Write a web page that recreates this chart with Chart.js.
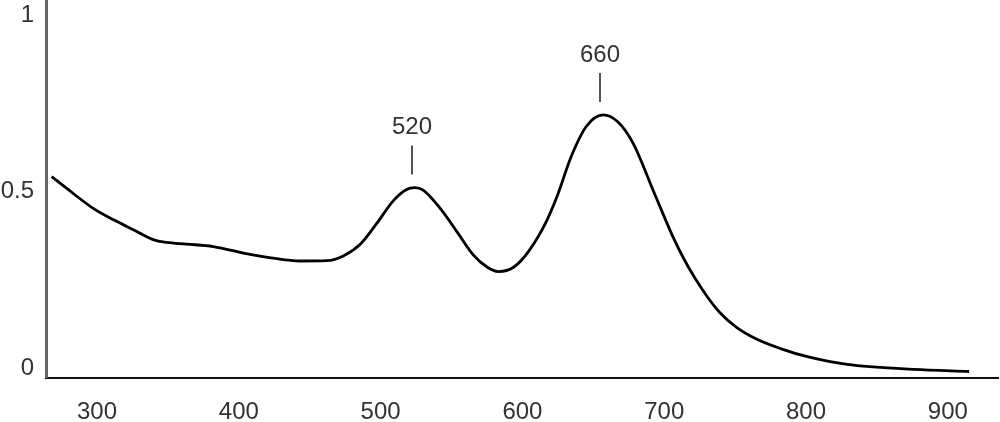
<!DOCTYPE html>
<html lang="en">
<head>
<meta charset="UTF-8" />
<title>Absorption spectrum</title>
<script src="https://cdn.jsdelivr.net/npm/chart.js"></script>
<style>
  html, body { margin: 0; padding: 0; background: #fff; }
  .chart-box { position: relative; width: 1000px; height: 422px; }
</style>
</head>
<body>
<div class="chart-box"><canvas id="spectrum"></canvas></div>

<script>
  // wavelength (nm) and absorbance
  const wavelength = [268, 283, 297, 312, 326, 340, 349, 363, 382, 406, 424, 443, 462, 474, 486,
                      497, 509, 518, 524, 530, 542, 554, 565, 575, 583, 594, 605, 617, 625, 634,
                      645, 657, 667, 678, 692, 699, 706, 714, 721, 730, 739, 751, 765, 782, 801,
                      829, 876, 915];
  const absorbance = [0.542, 0.495, 0.453, 0.419, 0.391, 0.363, 0.356, 0.351, 0.344, 0.323, 0.311, 0.303, 0.304, 0.318, 0.352,
                      0.408, 0.474, 0.505, 0.511, 0.504, 0.452, 0.385, 0.322, 0.286, 0.273, 0.286, 0.334, 0.416, 0.492, 0.595,
                      0.684, 0.717, 0.698, 0.637, 0.505, 0.438, 0.373, 0.308, 0.259, 0.204, 0.158, 0.115, 0.082, 0.055, 0.032,
                      0.010, -0.004, -0.010];
  const xTicks = [300, 400, 500, 600, 700, 800, 900];
  const yTicks = [0, 0.5, 1];
  const peakLabels = [520, 660];

  const fontFamily = '"Liberation Sans", Arial, sans-serif';

  // little "520" / "660" markers above the peaks
  const peakMarkers = {
    id: 'peakMarkers',
    afterDatasetsDraw(chart) {
      const { ctx, scales: { x, y } } = chart;
      ctx.save();
      ctx.font = '24px ' + fontFamily;
      ctx.textAlign = 'center';
      ctx.textBaseline = 'middle';
      peakLabels.forEach(label => {
        // highest point within 15 nm of the label
        let best = -1;
        wavelength.forEach((w, i) => {
          if (Math.abs(w - label) <= 15 && (best < 0 || absorbance[i] > absorbance[best])) best = i;
        });
        const px = Math.round(x.getPixelForValue(wavelength[best])) - 3;
        const py = y.getPixelForValue(absorbance[best]);
        const lineBottom = py - 13;
        const lineTop = lineBottom - 29;
        ctx.strokeStyle = '#555';
        ctx.lineWidth = 2;
        ctx.beginPath();
        ctx.moveTo(px, lineTop);
        ctx.lineTo(px, lineBottom);
        ctx.stroke();
        ctx.fillStyle = '#333';
        ctx.fillText(String(label), px, lineTop - 18);
      });
      ctx.restore();
    }
  };

  const points = wavelength.map((w, i) => ({ x: w, y: absorbance[i] }));

  new Chart(document.getElementById('spectrum'), {
    type: 'line',
    data: {
      datasets: [{
        data: points,
        borderColor: '#000',
        borderWidth: 2.8,
        pointRadius: 0,
        fill: false,
        cubicInterpolationMode: 'monotone'
      }]
    },
    options: {
      responsive: true,
      maintainAspectRatio: false,
      animation: false,
      layout: { padding: { left: 0, top: 0, right: 2, bottom: 0 } },
      plugins: {
        legend: { display: false },
        tooltip: { enabled: false }
      },
      scales: {
        x: {
          type: 'linear',
          min: 264,
          max: 935.4,
          grid: { display: false, drawTicks: false },
          border: { display: true, color: '#111', width: 2 },
          afterBuildTicks: scale => { scale.ticks = xTicks.map(v => ({ value: v })); },
          afterFit: scale => {
            scale.height = 44.5;
            scale.paddingLeft = 0;
            scale.paddingRight = 0;
          },
          ticks: {
            color: '#333',
            padding: 20,
            maxRotation: 0,
            font: { family: fontFamily, size: 24 },
            callback: v => String(v)
          }
        },
        y: {
          min: -0.027,
          max: 1.0425,
          grid: { display: false, drawTicks: false },
          border: { display: true, color: '#666', width: 3 },
          afterBuildTicks: scale => { scale.ticks = yTicks.map(v => ({ value: v })); },
          afterFit: scale => {
            scale.width = 46;
            scale.paddingTop = 0;
            scale.paddingBottom = 0;
          },
          ticks: {
            color: '#333',
            padding: 12,
            font: { family: fontFamily, size: 24 },
            callback: v => String(v)
          }
        }
      }
    },
    plugins: [peakMarkers]
  });
</script>
</body>
</html>
